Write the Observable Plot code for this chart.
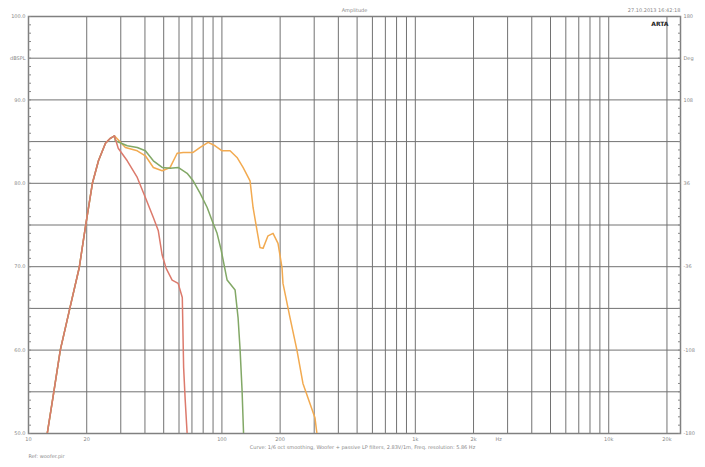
<!DOCTYPE html>
<html><head><meta charset="utf-8">
<script src="https://cdn.jsdelivr.net/npm/d3@7"></script>
<script src="https://cdn.jsdelivr.net/npm/@observablehq/plot@0.6"></script>
<style>body{margin:0;background:#fff} svg{display:block}</style>
</head><body><div id="chart"></div>
<script>
// ---- data (frequency in Hz, level in dB) ----
const redFreq = [12.5,13.5,14.6,16.5,18.3,19.7,21.4,23.0,25.0,26.5,27.8,29.1,32.4,36.5,40.2,44.2,46.9,49.1,51.5,55.3,59.4,62.4,63.4,64.6,66.1];
const redDb   = [50,54.9,60,65.4,69.9,74.8,80,82.7,84.8,85.4,85.7,84.2,82.7,80.7,78.3,75.9,74.3,71.4,69.8,68.4,68.0,66.3,57.9,54.0,50.0];

const greenFreq = [12.5,13.5,14.6,16.5,18.3,19.7,21.4,23.0,25.0,26.5,27.8,28.1,32.4,36.5,40.2,44.2,49.1,54.0,59.4,66.1,71.0,77.2,83.9,89.0,94.4,99.1,106.4,117,121.2,124.2,127.1,129.4];
const greenDb   = [50,54.9,60,65.4,69.9,74.8,80,82.7,84.8,85.4,85.7,85.1,84.5,84.3,83.9,82.7,81.9,81.8,81.9,81.2,80.3,78.8,77.1,75.5,74.0,72.0,68.4,67.2,63.9,60.0,55.2,50.0];

const orangeFreq = [12.5,13.5,14.6,16.5,18.3,19.7,21.4,23.0,25.0,26.5,27.8,31.7,36.5,40.2,44.2,49.1,54.0,58.7,63.1,71.0,77.2,84.9,92.2,100.2,110.2,119.7,128.6,139.8,144.9,152.0,157.4,163.2,173.1,183.8,195.0,204.5,206.9,224.9,244.3,262.4,285.2,302.7,309.9];
const orangeDb   = [50,54.9,60,65.4,69.9,74.8,80,82.7,84.8,85.4,85.7,84.3,83.9,83.3,81.9,81.5,81.9,83.6,83.7,83.7,84.3,84.9,84.5,83.9,83.9,83.1,81.9,80.3,77.1,74.3,72.3,72.2,73.7,74.0,72.8,69.9,68.0,63.9,60.0,56.0,53.6,51.9,50.0];

// ---- axis tick values and labels ----
const xTickValues = [10,20,50,100,200,500,1000,2000,2700,5000,10000,20000];
const xTickLabels = ["10","20","50","100","200","500","1k","2k","Hz","5k","10k","20k"];
const yTickValues = [100,95,90,80,70,60,50];
const yLeftLabels = ["100.0","dBSPL","90.0","80.0","70.0","60.0","50.0"];
const yRightLabels = ["180","Deg","108","36","-36","-108","-180"];

const titleText = "Amplitude";
const dateText = "27.10.2013 16:42:18";
const captionText = "Curve: 1/6 oct smoothing, Woofer + passive LP filters, 2.83V/1m, Freq. resolution: 5.86 Hz";
const noteText = "Ref: woofer.pir";

// ---- tables for the library ----
const toRows = (fs, ds) => fs.map((f, i) => ({f, db: ds[i]}));
const orangeRows = toRows(orangeFreq, orangeDb);
const greenRows = toRows(greenFreq, greenDb);
const redRows = toRows(redFreq, redDb);

const xGrid = [];
for (const dec of [10, 100, 1000, 10000]) for (let m = 1; m < 10; m++) if (dec * m <= 23500) xGrid.push(dec * m);
const yGrid = d3.range(50, 100.1, 5);
const yMinor = d3.range(50, 100.1, 1);

const leftMap = new Map(yTickValues.map((v, i) => [v, yLeftLabels[i]]));
const rightMap = new Map(yTickValues.map((v, i) => [v, yRightLabels[i]]));
const xMap = new Map(xTickValues.map((v, i) => [v, xTickLabels[i]]));

const plot = Plot.plot({
  width: 705, height: 467,
  marginLeft: 28, marginRight: 25, marginTop: 16, marginBottom: 34,
  style: {fontFamily: "DejaVu Sans, sans-serif", fontSize: "5px", color: "#777", background: "#fff"},
  x: {type: "log", domain: [10, 23500]},
  y: {domain: [50, 100]},
  marks: [
    Plot.ruleX(xGrid, {stroke: "#727272", strokeWidth: 1}),
    Plot.ruleY(yGrid, {stroke: "#727272", strokeWidth: 1}),
    Plot.frame({stroke: "#808080", strokeWidth: 1.5}),
    Plot.axisY(yMinor, {anchor: "left", tickSize: 3, dx: 3, tickFormat: () => "", stroke: "#888", label: null}),
    Plot.axisY(yMinor, {anchor: "right", tickSize: 3, dx: -3, tickFormat: () => "", stroke: "#888", label: null}),
    Plot.axisY(yTickValues, {anchor: "left", tickSize: 0, tickPadding: 3, tickFormat: d => leftMap.get(d), label: null, fill: "#888"}),
    Plot.axisY(yTickValues, {anchor: "right", tickSize: 0, tickPadding: 3, tickFormat: d => rightMap.get(d), label: null, fill: "#888"}),
    Plot.axisX(xTickValues, {anchor: "bottom", tickSize: 0, tickPadding: 4, tickFormat: d => xMap.get(d), label: null, fill: "#888"}),
    Plot.line(orangeRows, {x: "f", y: "db", stroke: "#f2aa50", strokeWidth: 1.5, clip: true}),
    Plot.line(greenRows, {x: "f", y: "db", stroke: "#82a866", strokeWidth: 1.5, clip: true}),
    Plot.line(redRows, {x: "f", y: "db", stroke: "#dc7a6c", strokeWidth: 1.5, clip: true}),
    Plot.text([titleText], {frameAnchor: "top", dy: -8, fill: "#888"}),
    Plot.text([dateText], {frameAnchor: "top-right", dy: -8, textAnchor: "end", fill: "#888"}),
    Plot.text(["ARTA"], {frameAnchor: "top-right", dx: -12, dy: 5, textAnchor: "end", fontWeight: "bold", fontSize: 6, fill: "#222"}),
    Plot.text([captionText], {frameAnchor: "bottom", dy: 15, dx: 8, fill: "#888"}),
    Plot.text([noteText], {frameAnchor: "bottom-left", dy: 24, textAnchor: "start", fill: "#888"})
  ]
});
document.getElementById("chart").appendChild(plot);
</script>
</body></html>
